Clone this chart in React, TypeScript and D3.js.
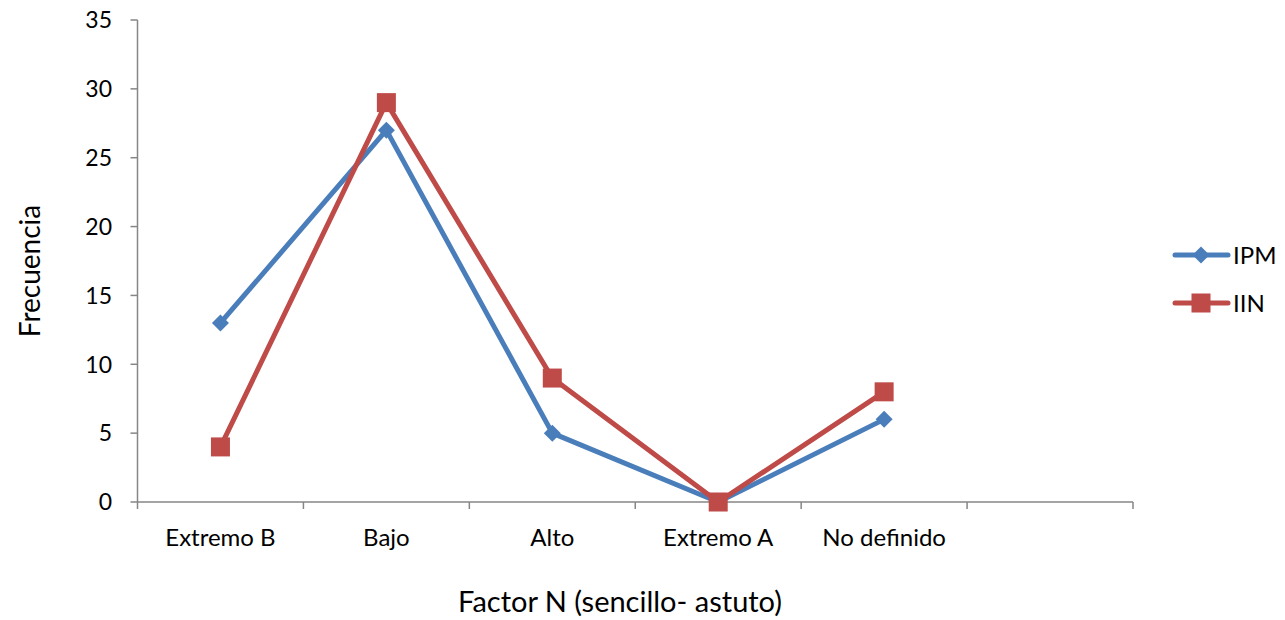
import React from "react";
import * as d3 from "d3";

const categories = ["Extremo B", "Bajo", "Alto", "Extremo A", "No definido", ""];
const ipm = [13, 27, 5, 0, 6];
const iin = [4, 29, 9, 0, 8];
const yTicks = [0, 5, 10, 15, 20, 25, 30, 35];
const seriesNames = ["IPM", "IIN"];

const W = 1285, H = 620;
const left = 137.5, right = 1133, top = 20, bottom = 502;
const FONT = "Lato, 'Open Sans', sans-serif";
const BLUE = "#4A7EBB";
const RED = "#BE4B48";
const AXIS = "#868686";

export default function App() {
  const x = d3.scaleBand<string>().domain(categories.map((c, i) => String(i))).range([left, right]).padding(0);
  const y = d3.scaleLinear().domain([0, 35]).range([bottom, top]);
  const cx = (i: number) => (x(String(i)) as number) + x.bandwidth() / 2;
  const line = d3.line<number>().x((_, i) => cx(i)).y((d) => y(d));
  const bounds = d3.range(categories.length + 1).map((i) => left + i * x.bandwidth());

  const diamond = (px: number, py: number, r: number) =>
    `M${px},${py - r}L${px + r},${py}L${px},${py + r}L${px - r},${py}Z`;

  return (
    <svg width={W} height={H} style={{ position: "absolute", left: 0, top: 0, background: "#fff" }}>
      {/* y axis */}
      <line x1={left} x2={left} y1={top} y2={bottom} stroke={AXIS} strokeWidth={1.5} />
      {yTicks.map((t) => (
        <g key={t}>
          <line x1={left - 7} x2={left} y1={y(t)} y2={y(t)} stroke={AXIS} strokeWidth={1.5} />
          <text x={112} y={y(t)} dy="0.36em" textAnchor="end" fontFamily={FONT} fontSize={23} fill="#000">
            {t}
          </text>
        </g>
      ))}
      {/* x axis */}
      <line x1={left} x2={right} y1={bottom} y2={bottom} stroke={AXIS} strokeWidth={1.5} />
      {bounds.map((b, i) => (
        <line key={i} x1={b} x2={b} y1={bottom} y2={bottom + 7} stroke={AXIS} strokeWidth={1.5} />
      ))}
      {categories.map((c, i) => (
        <text key={i} x={cx(i)} y={546} textAnchor="middle" fontFamily={FONT} fontSize={24} fill="#000">
          {c}
        </text>
      ))}
      {/* axis titles */}
      <text x={620} y={612} textAnchor="middle" fontFamily={FONT} fontSize={29} fill="#000">
        Factor N (sencillo- astuto)
      </text>
      <text transform={`translate(40,${271}) rotate(-90)`} textAnchor="middle" fontFamily={FONT} fontSize={28} fill="#000">
        Frecuencia
      </text>
      {/* series */}
      <path d={line(ipm) || ""} fill="none" stroke={BLUE} strokeWidth={5} strokeLinejoin="round" strokeLinecap="round" />
      {ipm.map((v, i) => (
        <path key={i} d={diamond(cx(i), y(v), 8.5)} fill={BLUE} />
      ))}
      <path d={line(iin) || ""} fill="none" stroke={RED} strokeWidth={5} strokeLinejoin="round" strokeLinecap="round" />
      {iin.map((v, i) => (
        <rect key={i} x={cx(i) - 9.5} y={y(v) - 9.5} width={19} height={19} fill={RED} />
      ))}
      {/* legend */}
      {seriesNames.map((s, i) => {
        const ly = 255 + i * 48;
        const col = i === 0 ? BLUE : RED;
        return (
          <g key={s}>
            <line x1={1175} x2={1228} y1={ly} y2={ly} stroke={col} strokeWidth={5} strokeLinecap="round" />
            {i === 0 ? (
              <path d={diamond(1201, ly, 8.5)} fill={col} />
            ) : (
              <rect x={1201 - 9.5} y={ly - 9.5} width={19} height={19} fill={col} />
            )}
            <text x={1233} y={ly} dy="0.36em" fontFamily={FONT} fontSize={24} fill="#000">
              {s}
            </text>
          </g>
        );
      })}
    </svg>
  );
}
